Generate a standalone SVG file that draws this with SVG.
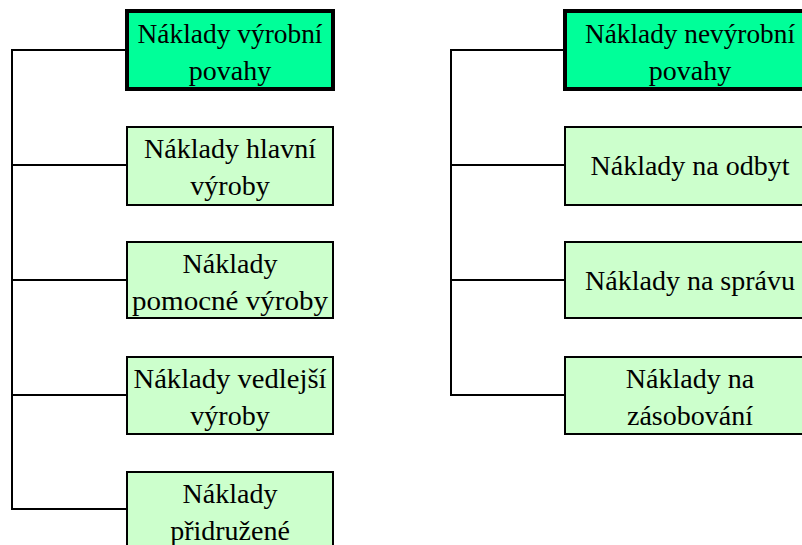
<svg xmlns="http://www.w3.org/2000/svg" width="802" height="545" viewBox="0 0 802 545">
<style>
.hdr{fill:#00FF99;stroke:#000;stroke-width:4}
.box{fill:#CCFFCC;stroke:#000;stroke-width:2}
.t{font-family:"Liberation Serif","Times New Roman",serif;font-size:28px;fill:#000;text-anchor:middle}
.c{fill:none;stroke:#000;stroke-width:2}
</style>
<rect width="802" height="545" fill="#fff"/>
<g id="connectors">
<path class="c" d="M127,50 H12 V509 H127 M12,165 H127 M12,280 H127 M12,395 H127"/>
<path class="c" d="M565,50 H451 V395 H565 M451,165 H565 M451,280 H565"/>
</g>
<g id="n1"><rect class="hdr" x="127" y="11" width="206" height="78"/>
<text class="t" x="230" y="43" textLength="185" lengthAdjust="spacingAndGlyphs">Náklady výrobní</text><text class="t" x="230" y="80">povahy</text></g>
<g id="n2"><rect class="box" x="127" y="127" width="206" height="78"/>
<text class="t" x="230" y="158">Náklady hlavní</text><text class="t" x="230" y="195">výroby</text></g>
<g id="n3"><rect class="box" x="127" y="242" width="206" height="76"/>
<text class="t" x="230" y="273">Náklady</text><text class="t" x="230" y="310" textLength="196" lengthAdjust="spacingAndGlyphs">pomocné výroby</text></g>
<g id="n4"><rect class="box" x="127" y="357" width="206" height="77"/>
<text class="t" x="230" y="388" textLength="193" lengthAdjust="spacingAndGlyphs">Náklady vedlejší</text><text class="t" x="230" y="425">výroby</text></g>
<g id="n5"><rect class="box" x="127" y="472" width="206" height="90"/>
<text class="t" x="230" y="503">Náklady</text><text class="t" x="230" y="540">přidružené</text></g>
<g id="n6"><rect class="hdr" x="565" y="11" width="250" height="78"/>
<text class="t" x="690" y="43" textLength="210" lengthAdjust="spacingAndGlyphs">Náklady nevýrobní</text><text class="t" x="690" y="80">povahy</text></g>
<g id="n7"><rect class="box" x="565" y="127" width="250" height="78"/>
<text class="t" x="690" y="175" textLength="199" lengthAdjust="spacingAndGlyphs">Náklady na odbyt</text></g>
<g id="n8"><rect class="box" x="565" y="242" width="250" height="76"/>
<text class="t" x="690" y="290" textLength="210" lengthAdjust="spacingAndGlyphs">Náklady na správu</text></g>
<g id="n9"><rect class="box" x="565" y="357" width="250" height="77"/>
<text class="t" x="690" y="388">Náklady na</text><text class="t" x="690" y="425">zásobování</text></g>
</svg>
